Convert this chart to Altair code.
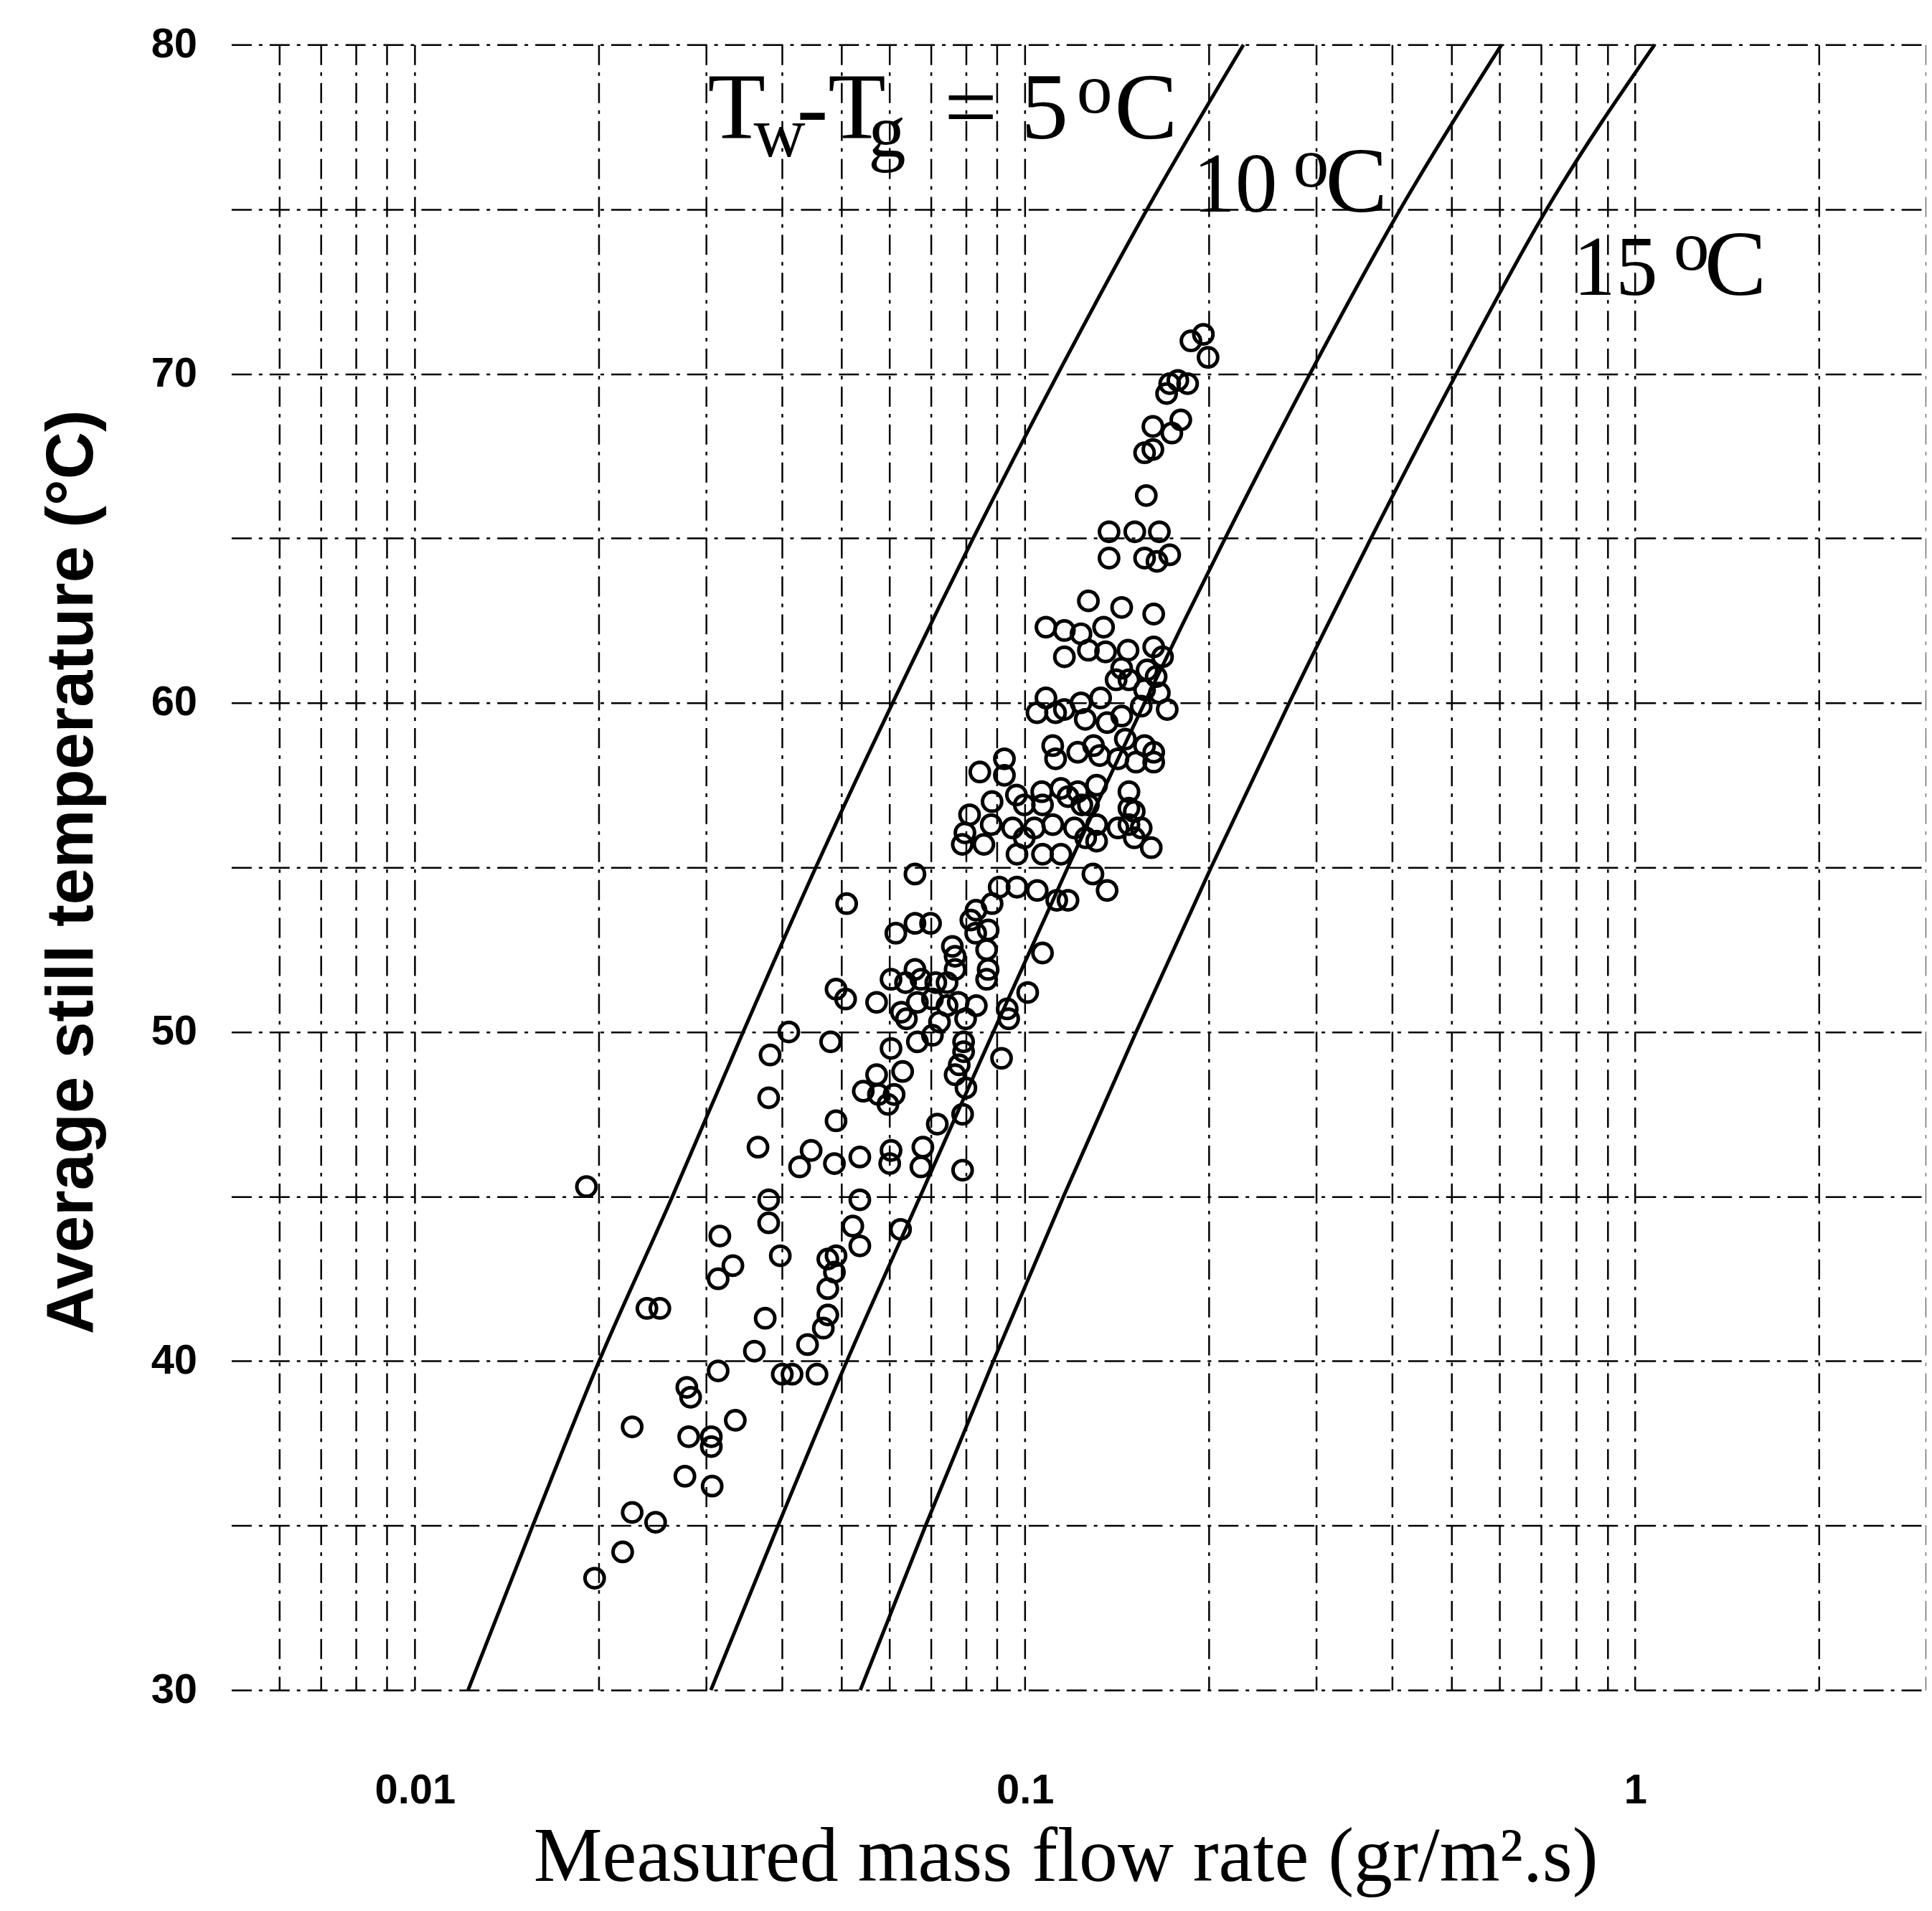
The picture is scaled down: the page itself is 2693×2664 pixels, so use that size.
import altair as alt
import pandas as pd

# ---------------- data ----------------
flow = [
    0.0197, 0.0219, 0.0227, 0.0248, 0.0277, 0.0307, 0.0281, 0.0306, 0.0306, 0.0227,
    0.0335, 0.0279, 0.0283, 0.0314, 0.0400, 0.0415, 0.0456, 0.0360, 0.0440, 0.0467,
    0.0475, 0.0375, 0.0240, 0.0252, 0.0332, 0.0314, 0.0397, 0.0475, 0.0490, 0.0475,
    0.0487, 0.0536, 0.0522, 0.0536, 0.0625, 0.0316, 0.0380, 0.0380, 0.0191, 0.0380,
    0.0490, 0.0365, 0.0446, 0.0427, 0.0487, 0.0536, 0.0600, 0.0680, 0.0675, 0.0790,
    0.0718, 0.0790, 0.0800, 0.0575, 0.0610,
    0.0603, 0.0571, 0.0630, 0.0543, 0.0596,
    0.0382, 0.0410, 0.0480, 0.0603, 0.0666, 0.0705, 0.0793, 0.0793, 0.0780, 0.0768, 0.0915,
    0.0571, 0.0627, 0.0666, 0.0705, 0.0745, 0.0777, 0.0832, 0.0935, 0.0940, 0.1010,
    0.0490, 0.0508, 0.0639, 0.0724, 0.0799,
    0.0603, 0.0637, 0.0675, 0.0714, 0.0745, 0.0660, 0.0870, 0.0865,
    0.0760, 0.0768, 0.0768, 0.0815, 0.0830, 0.0870, 0.0865, 0.0614, 0.0660, 0.0700, 0.1068,
    0.0510, 0.0660,
    0.0811, 0.0883, 0.0997, 0.1068, 0.1176, 0.1239, 0.1510,
    0.0789, 0.0856, 0.0997, 0.1257, 0.1310, 0.1510, 0.1610,
    0.0970, 0.1068, 0.1145, 0.1292, 0.1363, 0.0907, 0.0970, 0.1047, 0.1127, 0.1176, 0.0831, 0.0883,
    0.1870, 0.1960, 0.1995,
    0.1726, 0.1847, 0.1706, 0.1780,
    0.1620, 0.1800, 0.1740,
    0.1570, 0.1620,
    0.1580,
    0.1373, 0.1513, 0.1660, 0.1373, 0.1570, 0.1726, 0.1645,
    0.1270, 0.1440, 0.1625,
    0.1082, 0.1160, 0.1235, 0.1345,
    0.1160, 0.1270, 0.1355, 0.1475, 0.1625, 0.1680, 0.1585, 0.1640,
    0.1440, 0.1480, 0.1570, 0.1410, 0.1550, 0.1660,
    0.1082, 0.1160, 0.1235, 0.1330,
    0.1046, 0.1122, 0.1255, 0.1363, 0.1440,
    0.1710,
    0.1460, 0.1570, 0.1625, 0.1295, 0.1325, 0.1110, 0.1122, 0.1220,
    0.1420, 0.1520, 0.1625,
    0.0843, 0.0925, 0.0925,
    0.1480, 0.1480, 0.1480,
    0.1065, 0.1145, 0.1220, 0.1310, 0.1270,
    0.0968,
    0.0797, 0.0880, 0.0954, 0.1036, 0.1110, 0.1205, 0.1310, 0.1420, 0.1550,
]
temp = [
    33.4, 34.2, 35.4, 35.1, 36.5, 36.2, 37.7, 37.7, 37.4, 38.0,
    38.2, 39.2, 38.9, 39.7, 39.6, 39.6, 39.6, 40.3, 40.5, 41.0,
    41.4, 41.3, 41.6, 41.6, 42.9, 42.5, 43.2, 43.1, 43.2, 42.2,
    42.7, 43.5, 44.1, 44.9, 44.0, 43.8, 44.9, 44.2, 45.3, 48.0,
    47.3, 46.5, 46.4, 45.9, 46.0, 46.2, 46.0, 46.5, 45.9, 45.8,
    47.2, 47.5, 48.3, 48.1, 48.1,
    46.4, 48.7, 48.8, 48.2, 47.8,
    49.3, 50.0, 49.7, 49.5, 49.7, 49.9, 49.7, 49.4, 49.0, 48.7, 49.2,
    50.9, 50.6, 50.9, 51.0, 50.8, 50.9, 50.8, 50.7, 50.4, 51.2,
    51.3, 51.0, 50.4, 50.3, 50.4,
    51.6, 51.5, 51.6, 51.5, 51.5, 51.9, 51.9, 51.6,
    52.6, 52.3, 51.9, 53.4, 53.0, 53.1, 52.5, 53.0, 53.3, 53.3, 52.4,
    53.9, 54.8,
    56.6, 57.0, 56.9, 56.9, 57.15, 56.9, 56.7,
    55.7, 55.7, 55.9, 55.9, 55.8, 55.9, 55.6,
    55.4, 55.4, 55.4, 54.8, 54.3, 54.4, 54.4, 54.3, 54.0, 54.0, 53.7, 53.9,
    71.0, 71.2, 70.5,
    69.7, 69.7, 69.4, 69.8,
    68.4, 68.6, 68.2,
    67.6, 67.7,
    66.3,
    65.2, 65.2, 65.2, 64.4, 64.4, 64.5, 64.3,
    63.1, 62.9, 62.7,
    62.3, 62.2, 62.1, 62.3,
    61.4, 61.6, 61.55, 61.6, 61.7, 61.4, 61.0, 60.8,
    61.05, 60.7, 60.4, 60.7, 59.9, 60.3,
    60.15, 59.8, 60.0, 60.15,
    59.7, 59.7, 59.5, 59.4, 59.6,
    59.8,
    58.9, 58.7, 58.5, 58.7, 58.4, 58.7, 58.3, 58.5,
    58.3, 58.2, 58.2,
    57.9, 58.3, 57.8,
    57.3, 56.8, 56.3,
    57.3, 57.4, 57.3, 57.5, 56.9,
    57.2,
    56.05, 56.3, 56.2, 56.2, 56.3, 56.2, 56.3, 56.2, 56.2,
]

# Tw - Tg reference lines: flow rate read at each 5 degC grid level
line_temps = [30, 35, 40, 45, 50, 55, 60, 65, 70, 75, 80]
line_5C = [0.01222, 0.0156, 0.02004, 0.02642, 0.03451, 0.04539, 0.06067, 0.08222, 0.1132, 0.1585, 0.228]
line_10C = [0.03055, 0.03936, 0.05105, 0.0673, 0.08872, 0.1175, 0.157, 0.2128, 0.2931, 0.4121, 0.604]
line_15C = [0.0537, 0.0687, 0.08872, 0.1156, 0.1521, 0.2018, 0.271, 0.369, 0.5093, 0.7161, 1.076]
line_names = ["5", "10", "15"]

# axis ticks / grid
x_grid_values = [0.006, 0.007, 0.008, 0.009, 0.01, 0.02, 0.03, 0.04, 0.05, 0.06, 0.07, 0.08, 0.09,
                 0.1, 0.2, 0.3, 0.4, 0.5, 0.6, 0.7, 0.8, 0.9, 1, 2, 3]
x_label_values = [0.01, 0.1, 1]
x_label_texts = ["0.01", "0.1", "1"]
y_grid_values = [30, 35, 40, 45, 50, 55, 60, 65, 70, 75, 80]
y_label_values = [30, 40, 50, 60, 70, 80]

# annotation anchors (data units) and their text pieces: (text, dx, dy, fontSize)
ann_flow = [0.0302, 0.1884, 0.792]
ann_temp = [77.15, 74.93, 72.4]
ann_pieces = [
    [("T", 0, 0, 132), ("w", 64, 25, 100), ("-T", 124, 0, 132),
     ("g", 224, 25, 105), ("= 5", 330, 0, 132), ("o", 515, -36, 100),
     ("C", 568, 0, 132)],
    [("10", 0, 0, 118), ("o", 140, -35, 100), ("C", 185, 0, 130)],
    [("15", 0, 0, 118), ("o", 140, -35, 100), ("C", 183, 0, 130)],
]

# ---------------- build chart ----------------
pts = pd.DataFrame({"flow": flow, "temp": temp})
rows = []
for name, vals in zip(line_names, [line_5C, line_10C, line_15C]):
    for t, f in zip(line_temps, vals):
        rows.append({"series": name, "temp": t, "flow": f})
lines_df = pd.DataFrame(rows)

x_expr = " : ".join(
    [f"datum.value == {v} ? '{t}'" for v, t in zip(x_label_values, x_label_texts)]
) + " : ''"
y_expr = "indexof([" + ",".join(str(v) for v in y_label_values) + "], datum.value) >= 0 ? datum.label : ''"

x_enc = alt.X(
    "flow:Q",
    scale=alt.Scale(type="log", domain=[0.005, 3], nice=False),
    axis=alt.Axis(
        values=x_grid_values, labelExpr=x_expr, grid=True, ticks=False, tickSize=0,
        domain=False, labelOverlap=False, labelFlush=False,
        labelFont="Liberation Sans", labelFontWeight="bold", labelFontSize=58,
        labelColor="black", labelPadding=112,
        gridColor="black", gridWidth=2.5, gridOpacity=1, gridDash=[28, 10, 5, 10],
        title="Measured mass flow rate (gr/m\u00b2.s)",
        titleFont="Liberation Serif", titleFontSize=108, titleFontWeight="normal",
        titleColor="black", titleX=1165, titleY=266, titleAlign="center",
        titleBaseline="alphabetic",
    ),
)
y_enc = alt.Y(
    "temp:Q",
    scale=alt.Scale(domain=[30, 80], nice=False, zero=False),
    axis=alt.Axis(
        values=y_grid_values, labelExpr=y_expr, grid=True, ticks=False, tickSize=0,
        domain=False, labelOverlap=False, labelFlush=False,
        labelFont="Liberation Sans", labelFontWeight="bold", labelFontSize=58,
        labelColor="black", labelPadding=48,
        gridColor="black", gridWidth=2.5, gridOpacity=1, gridDash=[28, 10, 5, 10],
        title="Average still temperature (\u00b0C)",
        titleFont="Liberation Sans", titleFontSize=92, titleFontWeight="bold",
        titleColor="black", titleX=-194, titleY=1155, titleAlign="center",
        titleBaseline="alphabetic",
    ),
)

lines = alt.Chart(lines_df).mark_line(
    color="black", strokeWidth=5, interpolate="monotone"
).encode(x=x_enc, y=y_enc, detail="series:N", order="temp:Q")

points = alt.Chart(pts).mark_point(
    shape="circle", filled=False, color="black", strokeWidth=5, size=720, opacity=1
).encode(x=x_enc, y=y_enc)

texts = []
for af, at, pieces in zip(ann_flow, ann_temp, ann_pieces):
    df = pd.DataFrame({"flow": [af], "temp": [at]})
    for txt, dx, dy, fs in pieces:
        texts.append(
            alt.Chart(df).mark_text(
                text=txt, dx=dx, dy=dy, fontSize=fs, font="Liberation Serif",
                align="left", baseline="alphabetic", color="black",
            ).encode(x=x_enc, y=y_enc)
        )

chart = alt.layer(lines, points, *texts).properties(
    width=2367, height=2298,
    autosize=alt.AutoSizeParams(type="none"),
    padding={"left": 315, "top": 52, "right": 0, "bottom": 290},
    background="white",
).configure_view(strokeWidth=0)

chart.save("out.html", embed_options={"renderer": "svg", "actions": False})
